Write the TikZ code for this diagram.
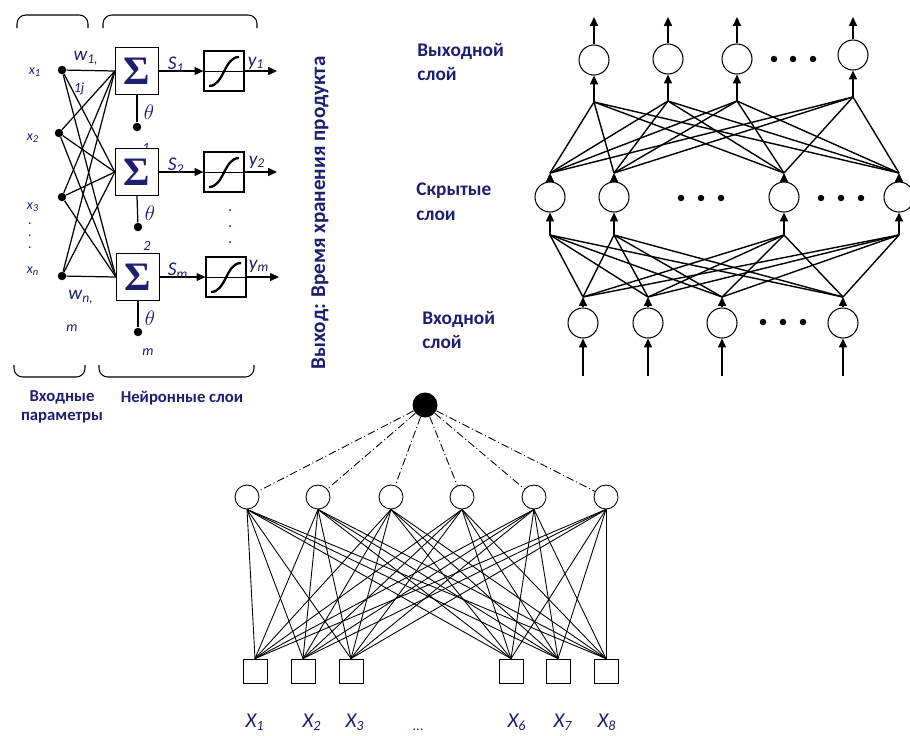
\documentclass[tikz,border=0pt]{standalone}
\usepackage{fontspec}
\setmainfont{Carlito}
\newfontfamily\sigmafont{Liberation Serif}
\usetikzlibrary{positioning, arrows.meta, calc}
\definecolor{navy}{RGB}{30,30,112}

\begin{document}
\begin{tikzpicture}[
    x=0.02cm, y=-0.02cm,
    >={Triangle[length=5pt,width=4.5pt]},
    txt/.style={text=navy, inner sep=0pt},
    lbl/.style={txt, font=\bfseries\fontsize{11}{14}\selectfont, align=left, anchor=west},
    wire/.style={line width=0.7pt},
    net/.style={line width=0.8pt},
    mesh/.style={line width=0.5pt},
    joint/.style={circle, fill=black, minimum size=0.17cm, inner sep=0pt},
    sumbox/.style={draw, fill=white, line width=0.7pt, minimum width=0.86cm, minimum height=0.94cm,
        inner sep=0pt, text=navy, font=\sigmafont\bfseries\fontsize{23}{23}\selectfont},
    actbox/.style={draw, fill=white, line width=0.7pt, minimum size=0.8cm, inner sep=0pt},
    neuron/.style={circle, draw, line width=0.6pt, minimum size=0.6cm, inner sep=0pt},
    hnode/.style={circle, draw, line width=0.5pt, minimum size=0.48cm, inner sep=0pt},
    feat/.style={draw, line width=0.5pt, minimum size=0.48cm, inner sep=0pt},
    bias/.style={circle, fill=black, minimum size=0.5cm, inner sep=0pt},
    ellip/.style={circle, fill=black, minimum size=0.13cm, inner sep=0pt},
    dashdot/.style={line width=0.5pt, dash pattern=on 4.5pt off 1.6pt on 0.6pt off 1.6pt}
]
    \useasboundingbox (0,0) rectangle (910,735);

    % ==================================================
    % Левая схема: нейрон с весами
    % ==================================================

    % --- Скобки ---
    \draw[line width=0.6pt, rounded corners=5] (17,28) -- (17,15) -- (88,15) -- (88,28);
    \draw[line width=0.6pt, rounded corners=5] (103,28) -- (103,15) -- (257,15) -- (257,28);
    \draw[line width=0.6pt, rounded corners=5] (14,365) -- (14,377) -- (85,377) -- (85,365);
    \draw[line width=0.6pt, rounded corners=5] (99,365) -- (99,377) -- (254,377) -- (254,365);

    % --- Входы ---
    \node[joint] (in1) at (62,70) {};
    \node[joint] (in2) at (59,133) {};
    \node[joint] (in3) at (62,197) {};
    \node[joint] (inn) at (62,276) {};

    \node[txt, font=\itshape\fontsize{8}{8}\selectfont] (lx1) at (35,72) {x\textsubscript{1}};
    \node[txt, font=\itshape\fontsize{8}{8}\selectfont] (lx2) at (33,138) {x\textsubscript{2}};
    \node[txt, font=\itshape\fontsize{8}{8}\selectfont] (lx3) at (33,207) {x\textsubscript{3}};
    \node[txt, font=\itshape\fontsize{8}{8}\selectfont] (lxn) at (33,271) {x\textsubscript{n}};
    \foreach \y in {224,236,248}
        \node[txt, font=\fontsize{8}{8}\selectfont] at (30,\y) {.};

    % --- Сумматоры ---
    \node[txt, font=\itshape\fontsize{8}{8}\selectfont] (th1i) at (146,148) {1};
    \node[sumbox] (sum1) at (137,71) {Σ};
    \node[sumbox] (sum2) at (137,172) {Σ};
    \node[sumbox] (summ) at (138,277) {Σ};

    % Связи входов с сумматорами
    \foreach \a in {in1,in2,in3,inn}
        \foreach \b in {sum1,sum2,summ}
            \draw[wire] (\a) -- (\b.west);

    % Веса
    \node[txt, font=\itshape\fontsize{11}{11}\selectfont] (w1) at (86,58) {w\textsubscript{1,}};
    \node[txt, font=\itshape\fontsize{8}{8}\selectfont] (w1j) at (79,89) {1j};
    \node[txt, font=\itshape\fontsize{11}{11}\selectfont] (wn) at (81,297) {w\textsubscript{n,}};
    \node[txt, font=\itshape\fontsize{8}{8}\selectfont] (wnm) at (72,328) {m};

    % --- Пороги ---
    \node[joint] (th1) at (137,127) {};
    \node[joint] (th2) at (138,227) {};
    \node[joint] (thm) at (138,332) {};
    \draw[wire] (sum1.south) -- (th1);
    \draw[wire] (sum2.south) -- (th2);
    \draw[wire] (summ.south) -- (thm);
    \node[txt, font=\fontsize{13}{13}\selectfont] at (149,112) {$\theta$};
    \node[txt, font=\fontsize{13}{13}\selectfont] at (150,213) {$\theta$};
    \node[txt, font=\fontsize{13}{13}\selectfont] at (150,318) {$\theta$};
    \node[txt, font=\itshape\fontsize{8}{8}\selectfont] (th2i) at (147,246) {2};
    \node[txt, font=\itshape\fontsize{8}{8}\selectfont] (thmi) at (148,352) {m};

    % --- Функции активации ---
    \node[actbox] (act1) at (224,71) {};
    \node[actbox] (act2) at (224,172) {};
    \node[actbox] (actm) at (226,277) {};
    \coordinate (y1) at (277,71);
    \coordinate (y2) at (277,172);
    \coordinate (ym) at (279,277);

    \foreach \i in {1,2,m} {
        \draw[line width=0.5pt] (act\i.west) -- (act\i.east);
        \draw[line width=1.3pt] ($(act\i.center)+(-15,15)$) .. controls ($(act\i.center)+(0,15)$)
            and ($(act\i.center)+(0,-14)$) .. ($(act\i.center)+(15,-14)$);
        \draw[->, wire] (sum\i.east) -- (act\i.west);
        \draw[->, wire] (act\i.east) -- (y\i);
    }

    \node[txt, font=\itshape\fontsize{11}{11}\selectfont] at (176,65) {S\textsubscript{1}};
    \node[txt, font=\itshape\fontsize{11}{11}\selectfont] at (176,166) {S\textsubscript{2}};
    \node[txt, font=\itshape\fontsize{11}{11}\selectfont] at (178,271) {S\textsubscript{m}};
    \node[txt, font=\itshape\fontsize{11}{11}\selectfont] at (256,63) {y\textsubscript{1}};
    \node[txt, font=\itshape\fontsize{11}{11}\selectfont] at (257,162) {y\textsubscript{2}};
    \node[txt, font=\itshape\fontsize{11}{11}\selectfont] at (259,266) {y\textsubscript{m}};
    \foreach \y in {211,227,243}
        \node[txt, font=\fontsize{9}{9}\selectfont] at (230,\y) {.};

    % --- Подписи ---
    \node[txt, font=\bfseries\fontsize{9.5}{11}\selectfont, align=center] at (62,407) {Входные\\параметры};
    \node[txt, font=\bfseries\fontsize{9.5}{11}\selectfont] at (182,398) {Нейронные слои};
    \node[txt, font=\bfseries\fontsize{12}{12}\selectfont, rotate=90] at (320,213) {Выход: Время хранения продукта};

    % ==================================================
    % Правая схема: многослойная сеть
    % ==================================================
    \node[lbl] at (417,62) {Выходной\\слой};
    \node[lbl] at (416,202) {Скрытые\\слои};
    \node[lbl] at (422,330) {Входной\\слой};

    % --- Выходной слой ---
    \foreach \n/\x/\y in {1/594/60, 2/668/59, 3/737/59, 4/853/55} {
        \node[neuron] (out\n) at (\x,\y) {};
        \coordinate (outt\n) at (\x,17);
        \coordinate (outb\n) at (\x,\y+42);
        \draw[->, net] (outb\n) -- (out\n.south);
        \draw[->, net] (out\n.north) -- (outt\n);
    }

    % --- Скрытый слой ---
    \foreach \n/\x in {1/550, 2/614, 3/784, 4/899} {
        \node[neuron] (hid\n) at (\x,197) {};
        \coordinate (hidt\n) at (\x,173);
        \coordinate (hidb\n) at (\x,235);
        \draw[->, net] (hid\n.north) -- (hidt\n);
        \draw[->, net] (hidb\n) -- (hid\n.south);
    }

    % --- Входной слой ---
    \foreach \n/\x in {1/583, 2/648, 3/722, 4/843} {
        \node[neuron] (inp\n) at (\x,323) {};
        \coordinate (inpt\n) at (\x,297);
        \coordinate (inpb\n) at (\x,376);
        \draw[->, net] (inp\n.north) -- (inpt\n);
        \draw[->, net] (inpb\n) -- (inp\n.south);
    }

    % Связи между слоями
    \foreach \i in {1,...,4}
        \foreach \j in {1,...,4} {
            \draw[net] (inpt\i) -- (hidb\j);
            \draw[net] (hidt\i) -- (outb\j);
        }

    % Многоточия
    \foreach \x in {774,793,813} \node[ellip] at (\x,59) {};
    \foreach \x in {681,701,721} \node[ellip] at (\x,198) {};
    \foreach \x in {821,841,861} \node[ellip] at (\x,198) {};
    \foreach \x in {763,783,803} \node[ellip] at (\x,322) {};

    % ==================================================
    % Нижняя схема
    % ==================================================
    \node[bias] (b0) at (425,405) {};

    \foreach \n/\x in {1/247, 2/318, 3/391, 4/462, 5/534, 6/606} {
        \node[hnode] (nr\n) at (\x,497) {};
        \draw[dashdot] (b0) -- (nr\n);
    }
    \foreach \n/\x in {1/255, 2/303, 3/351, 6/511, 7/558, 8/606} {
        \node[feat] (sq\n) at (\x,671) {};
    }
    \foreach \i in {1,...,6}
        \foreach \j in {1,2,3,6,7,8}
            \draw[mesh] (nr\i.south) -- (sq\j.north);

    \foreach \n/\x in {1/255, 2/312, 3/355, 6/517, 7/563, 8/607}
        \node[txt, font=\itshape\fontsize{12}{12}\selectfont] (lX\n) at (\x,722) {X\textsubscript{\n}};
    \node[txt, font=\fontsize{8}{8}\selectfont] (lXdots) at (418,730) {...};

\end{tikzpicture}
\end{document}
